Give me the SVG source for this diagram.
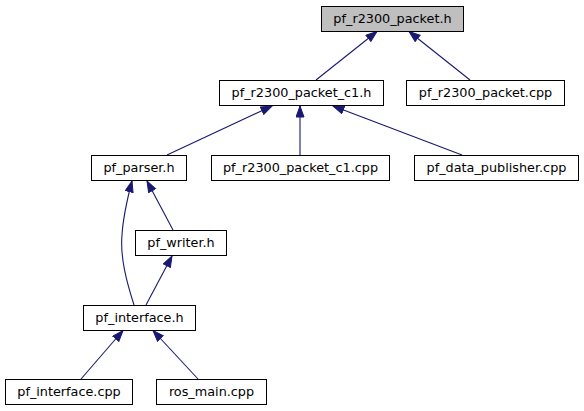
<svg xmlns="http://www.w3.org/2000/svg" width="584" height="411" viewBox="0 0 584 411">
<style>
.n rect{fill:#ffffff;stroke:#000000;stroke-width:1}
.n.root rect{fill:#bfbfbf}
.n text{font-family:"DejaVu Sans",sans-serif;font-size:12.8px;fill:#000000;text-anchor:middle}
.e path{fill:none;stroke:#191970;stroke-width:1.1;marker-end:url(#ah)}
</style>
<defs>
<marker id="ah" markerUnits="userSpaceOnUse" markerWidth="13" markerHeight="10" refX="11.5" refY="4.5" orient="auto">
<path d="M0.5,0.5 L11.5,4.5 L0.5,8.5 z" fill="#191970" stroke="#191970" stroke-width="1"/>
</marker>
</defs>
<rect width="584" height="411" fill="#ffffff"/>
<g id="edges" class="e">
<path d="M316,80 L377,31.5"/>
<path d="M470,80 L409,31.5"/>
<path d="M167,155 L272,106"/>
<path d="M300,155 L300,106"/>
<path d="M462,155 L333,106"/>
<path d="M173,230 L147,181"/>
<path d="M134,305 C127,283 120,258 122,235 C123,218 127,200 132,181"/>
<path d="M146,305 L172,256"/>
<path d="M81,379 L123,330.5"/>
<path d="M198,379 L153,330.5"/>
</g>
<g id="pf_r2300_packet_h" class="n root"><rect x="321.5" y="6.5" width="142" height="25"/><text x="392.5" y="23">pf_r2300_packet.h</text></g>
<g id="pf_r2300_packet_c1_h" class="n"><rect x="219.5" y="80.5" width="164" height="25"/><text x="301.5" y="97">pf_r2300_packet_c1.h</text></g>
<g id="pf_r2300_packet_cpp" class="n"><rect x="406.5" y="80.5" width="158" height="25"/><text x="485.5" y="97">pf_r2300_packet.cpp</text></g>
<g id="pf_parser_h" class="n"><rect x="91.5" y="155.5" width="95" height="25"/><text x="139" y="172">pf_parser.h</text></g>
<g id="pf_r2300_packet_c1_cpp" class="n"><rect x="211.5" y="155.5" width="178" height="25"/><text x="300.5" y="172">pf_r2300_packet_c1.cpp</text></g>
<g id="pf_data_publisher_cpp" class="n"><rect x="414.5" y="155.5" width="164" height="25"/><text x="496.5" y="172">pf_data_publisher.cpp</text></g>
<g id="pf_writer_h" class="n"><rect x="135.5" y="230.5" width="91" height="25"/><text x="181" y="247">pf_writer.h</text></g>
<g id="pf_interface_h" class="n"><rect x="83.5" y="305.5" width="112" height="25"/><text x="139.5" y="322">pf_interface.h</text></g>
<g id="pf_interface_cpp" class="n"><rect x="5.5" y="379.5" width="127" height="25"/><text x="69" y="396">pf_interface.cpp</text></g>
<g id="ros_main_cpp" class="n"><rect x="156.5" y="379.5" width="110" height="25"/><text x="211.5" y="396">ros_main.cpp</text></g>
</svg>
